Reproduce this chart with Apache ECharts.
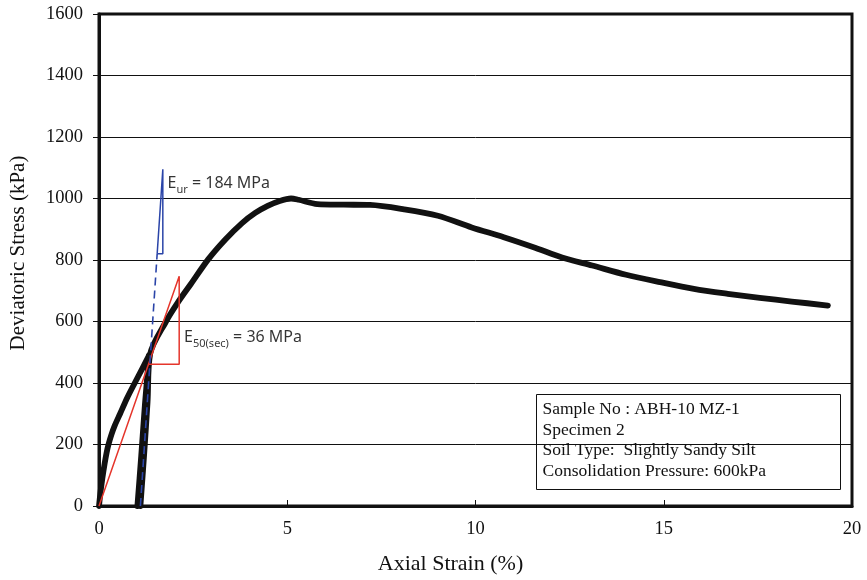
<!DOCTYPE html>
<html>
<head>
<meta charset="utf-8">
<script src="https://cdn.jsdelivr.net/npm/echarts@6/dist/echarts.min.js"></script>
<style>
  html, body { margin: 0; padding: 0; background: #fff; }
  #chart { width: 867px; height: 580px; }
</style>
</head>
<body>
<div id="chart"></div>
<script>
// Triaxial test: deviatoric stress vs axial strain, with one unload/reload loop
const loadStrain   = [0, 0.04, 0.09, 0.15, 0.20, 0.25, 0.33, 0.42, 0.56, 0.75, 0.95, 1.15, 1.33];
const loadStress   = [0, 45, 91, 138, 172, 199, 232, 262, 300, 352, 400, 447, 490];

const unloadStrain = [1.33, 1.22, 1.12, 1.02];
const unloadStress = [490, 330, 160, 0];

const reloadStrain = [1.10, 1.20, 1.29, 1.36, 1.78, 2.10, 2.44, 2.90, 3.35, 3.80, 4.15, 4.48, 4.80, 5.10, 5.30, 5.80, 6.50, 7.20, 8.10, 9.00, 9.90, 10.75, 11.60, 12.30, 13.10, 14.00, 14.90, 15.80, 16.70, 17.55, 18.40, 19.36];
const reloadStress = [0, 170, 340, 495, 600, 663, 722, 802, 866, 920, 953, 976, 992, 1000, 996, 982, 980, 979, 965, 944, 906, 874, 839, 808, 782, 752, 728, 706, 690, 677, 665, 652];

// Secant modulus E50 construction (red)
const e50Strain = [0, 2.13, 2.13, 1.31];
const e50Stress = [0, 747, 461, 461];

// Unload/reload modulus Eur construction (blue)
const eurDashStrain = [1.10, 1.545];
const eurDashStress = [0, 820];
const eurTriStrain  = [1.545, 1.695, 1.695, 1.545];
const eurTriStress  = [820, 1095, 820, 820];

const xTicks = { min: 0, max: 20, interval: 5 };
const yTicks = { min: 0, max: 1600, interval: 200 };

const xTitle = 'Axial Strain (%)';
const yTitle = 'Deviatoric Stress (kPa)';

const eurLabel = { strain: 1.82, stress: 1049, sub: 'ur', text: ' = 184 MPa' };
const e50Label = { strain: 2.26, stress: 547, sub: '50(sec)', text: ' = 36 MPa' };

const infoLines = [
  'Sample No : ABH-10 MZ-1',
  'Specimen 2',
  'Soil Type:  Slightly Sandy Silt',
  'Consolidation Pressure: 600kPa'
];

const zip = (xs, ys) => xs.map((x, i) => [x, ys[i]]);

const serif = 'Liberation Serif, Times New Roman, serif';
const sans = 'Noto Sans, sans-serif';

const curveStyle = { color: '#111', width: 5.8, cap: 'round', join: 'round' };

const richE = {
  m: { fontFamily: sans, fontSize: 16, color: '#000', lineHeight: 24, verticalAlign: 'middle' },
  s: { fontFamily: sans, fontSize: 11, color: '#000', lineHeight: 12, verticalAlign: 'bottom' }
};

const curve = (xs, ys) => ({
  type: 'line', data: zip(xs, ys), showSymbol: false,
  smooth: 0.3, lineStyle: curveStyle, z: 3
});

const chart = echarts.init(document.getElementById('chart'));
chart.setOption({
  animation: false,
  backgroundColor: '#fff',
  grid: { left: 98, right: 15, top: 14, bottom: 72, show: true, borderColor: '#111', borderWidth: 3 },
  xAxis: {
    type: 'value', min: xTicks.min, max: xTicks.max, interval: xTicks.interval,
    name: xTitle, nameLocation: 'middle', nameGap: 47,
    nameTextStyle: { fontFamily: serif, fontSize: 22, color: '#111', padding: [0, 50, 0, 0] },
    axisLine: { lineStyle: { color: '#111', width: 3 } },
    axisTick: { inside: true, length: 6, lineStyle: { color: '#111', width: 1 } },
    axisLabel: { fontFamily: serif, fontSize: 18.5, color: '#111', margin: 14 },
    splitLine: { show: false }
  },
  yAxis: {
    type: 'value', min: yTicks.min, max: yTicks.max, interval: yTicks.interval,
    name: yTitle, nameLocation: 'middle', nameGap: 70, nameRotate: 90,
    nameTextStyle: { fontFamily: serif, fontSize: 21, color: '#111', padding: [0, 0, 0, 14] },
    axisLine: { show: true, lineStyle: { color: '#111', width: 3 } },
    axisTick: { show: true, inside: false, length: 6, lineStyle: { color: '#111', width: 1 } },
    axisLabel: { fontFamily: serif, fontSize: 18.5, color: '#111', margin: 16, formatter: v => String(v) },
    splitLine: { show: true, lineStyle: { color: '#111', width: 1 } }
  },
  series: [
    curve(loadStrain, loadStress),
    curve(unloadStrain, unloadStress),
    curve(reloadStrain, reloadStress),
    { type: 'line', data: zip(e50Strain, e50Stress), showSymbol: false, lineStyle: { color: '#e5352b', width: 1.5 }, z: 4 },
    { type: 'line', data: zip(eurDashStrain, eurDashStress), showSymbol: false, lineStyle: { color: '#2a44a8', width: 1.6, type: [8, 5] }, z: 4 },
    { type: 'line', data: zip(eurTriStrain, eurTriStress), showSymbol: false, lineStyle: { color: '#2a44a8', width: 1.5 }, z: 4 },
    {
      type: 'scatter', symbolSize: 0, z: 5, silent: true,
      data: [eurLabel, e50Label].map(l => ({
        value: [l.strain, l.stress],
        label: {
          show: true, position: 'right', distance: 0,
          formatter: '{m|E}{s|' + l.sub + '}{m|' + l.text + '}',
          rich: richE
        }
      }))
    }
  ],
  graphic: [{
    type: 'group', left: 536, top: 394, z: 10,
    children: [
      { type: 'rect', shape: { x: 0, y: 0, width: 304, height: 95 }, style: { fill: '#fff', stroke: '#111', lineWidth: 1 } },
      { type: 'text', x: 6, y: 5, style: { text: infoLines.join('\n'), fontFamily: serif, fontSize: 17.5, lineHeight: 20.5, fill: '#111' } }
    ]
  }]
});
</script>
</body>
</html>
